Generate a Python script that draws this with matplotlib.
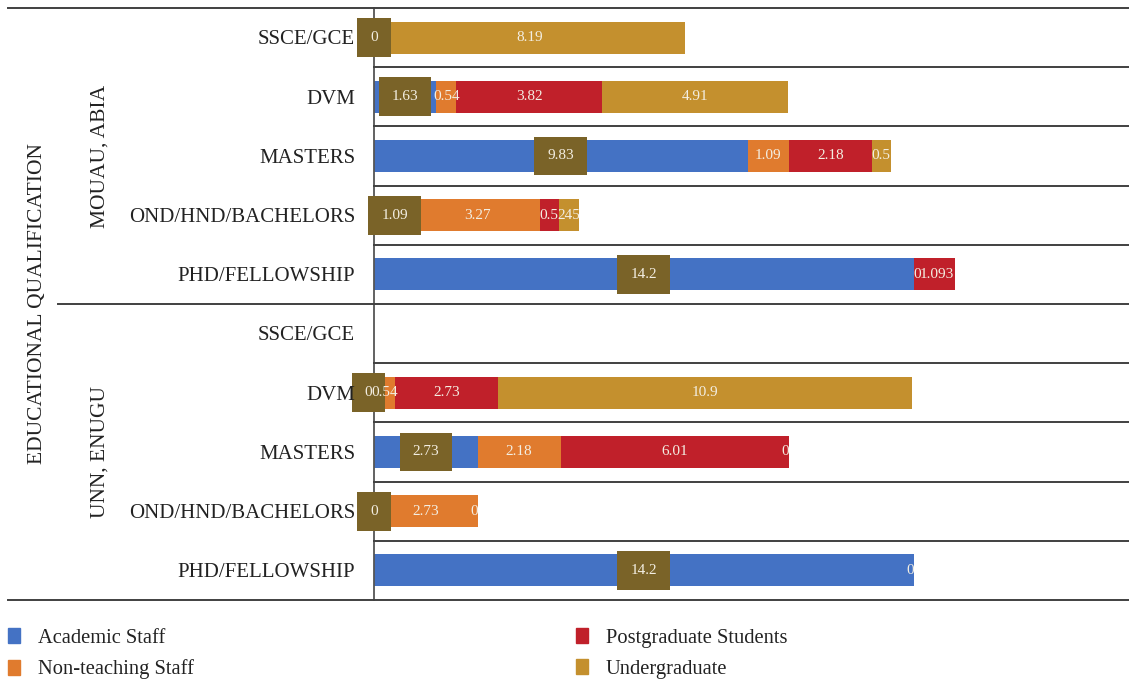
import numpy as np
import matplotlib.pyplot as plt
from matplotlib.patches import Patch
from matplotlib.lines import Line2D
from matplotlib import transforms

plt.rcParams['font.family'] = ['Liberation Serif', 'DejaVu Serif']

# rows from top to bottom
qualifications = ["SSCE/GCE", "DVM", "MASTERS", "OND/HND/BACHELORS", "PHD/FELLOWSHIP"] * 2
groups = ["MOUAU, ABIA", "UNN, ENUGU"]

series_names = ["Academic Staff", "Non-teaching Staff", "Postgraduate Students", "Undergraduate"]
nan = np.nan
academic     = [0, 1.63, 9.83, 1.09, 14.2,   nan, 0, 2.73, 0, 14.2]
non_teaching = [nan, 0.54, 1.09, 3.27, 0,    nan, 0.54, 2.18, 2.73, nan]
postgraduate = [nan, 3.82, 2.18, 0.5, 1.093, nan, 2.73, 6.01, 0, 0]
undergrad    = [8.19, 4.91, 0.5, 0.545, nan, nan, 10.9, 0, nan, nan]
# label text as printed where it differs from the plain value
label_text = {(3, 3): "245"}
# small nudges (points) for crowded labels
label_nudge = {(6, 0): -4, (4, 2): 2}

colors = ["#4472C4", "#E07B2E", "#C0202A", "#C4902E"]
box_color = "#7A6328"
line_color = "#404040"
txt_color = "#F3EEE2"

W, H = 1129, 682
fig = plt.figure(figsize=(W / 100, H / 100), dpi=100)
ax = fig.add_axes([374 / W, (H - 600) / H, (W - 374) / W, 592 / H])

series = [academic, non_teaching, postgraduate, undergrad]
rows = np.arange(len(qualifications))
left = np.zeros(len(rows))
for s, (vals, col) in enumerate(zip(series, colors)):
    vals = np.array(vals, dtype=float)
    widths = np.nan_to_num(vals)
    ax.barh(rows, widths, left=left, height=0.54, color=col, label=series_names[s])
    for i, v in enumerate(vals):
        if np.isnan(v):
            continue
        txt = label_text.get((i, s), f"{v:g}")
        kw = dict(textcoords="offset points", va="center", fontsize=11, color=txt_color)
        dx = label_nudge.get((i, s), 0)
        if s == 0:
            ax.annotate(txt, (left[i] + v / 2, i), xytext=(dx, 0), ha="center",
                        bbox=dict(boxstyle="square,pad=0.85", fc=box_color, ec="none"), **kw)
        elif v == 0:
            later = [series[k][i] for k in range(s + 1, 4)]
            trailing = all(np.isnan(x) or x == 0 for x in later)
            ax.annotate(txt, (left[i], i), xytext=(dx, 0),
                        ha="right" if trailing else "left", **kw)
        else:
            ax.annotate(txt, (left[i] + v / 2, i), xytext=(dx, 0), ha="center", **kw)
    left += widths

ax.set_xlim(0, 19.87)
ax.set_ylim(9.5, -0.5)
ax.set_xticks([])
ax.set_yticks([])
for side in ["top", "right", "bottom"]:
    ax.spines[side].set_visible(False)
ax.spines["left"].set_color("#555555")
ax.spines["left"].set_linewidth(1.3)

# separator lines: x in figure fraction, y in data units
trans = transforms.blended_transform_factory(fig.transFigure, ax.transData)
seps = [(-0.5, 8), (4.5, 58), (9.5, 8)] + [(y, 374) for y in [0.5, 1.5, 2.5, 3.5, 5.5, 6.5, 7.5, 8.5]]
for y, x0 in seps:
    fig.add_artist(Line2D([x0 / W, 1], [y, y], transform=trans, color=line_color, lw=1.4))

for i, q in enumerate(qualifications):
    fig.text(355 / W, i + 0.04, q, transform=trans, ha="right", va="center", fontsize=15,
             color="#222222")
for g, name in enumerate(groups):
    fig.text(100 / W, 2 + 5 * g, name, transform=trans, rotation=90, ha="center", va="center",
             fontsize=15.5, color="#222222")
fig.text(38 / W, 4.5, "EDUCATIONAL QUALIFICATION", transform=trans, rotation=90,
         ha="center", va="center", fontsize=15.5, color="#222222")

handles = [Patch(color=c) for c in colors]
leg_kw = dict(frameon=False, fontsize=14.8, handlelength=0.58, handleheight=0.73,
              handletextpad=0.87, labelspacing=0.58, borderaxespad=0, borderpad=0)
leg1 = fig.legend(handles[:2], series_names[:2], loc="upper left",
                  bbox_to_anchor=(8 / W, 1 - 628 / H), **leg_kw)
leg2 = fig.legend(handles[2:], series_names[2:], loc="upper left",
                  bbox_to_anchor=(576 / W, 1 - 628 / H), **leg_kw)
for l in [leg1, leg2]:
    for t in l.get_texts():
        t.set_color("#222222")

fig.savefig("out.png", dpi=100)
